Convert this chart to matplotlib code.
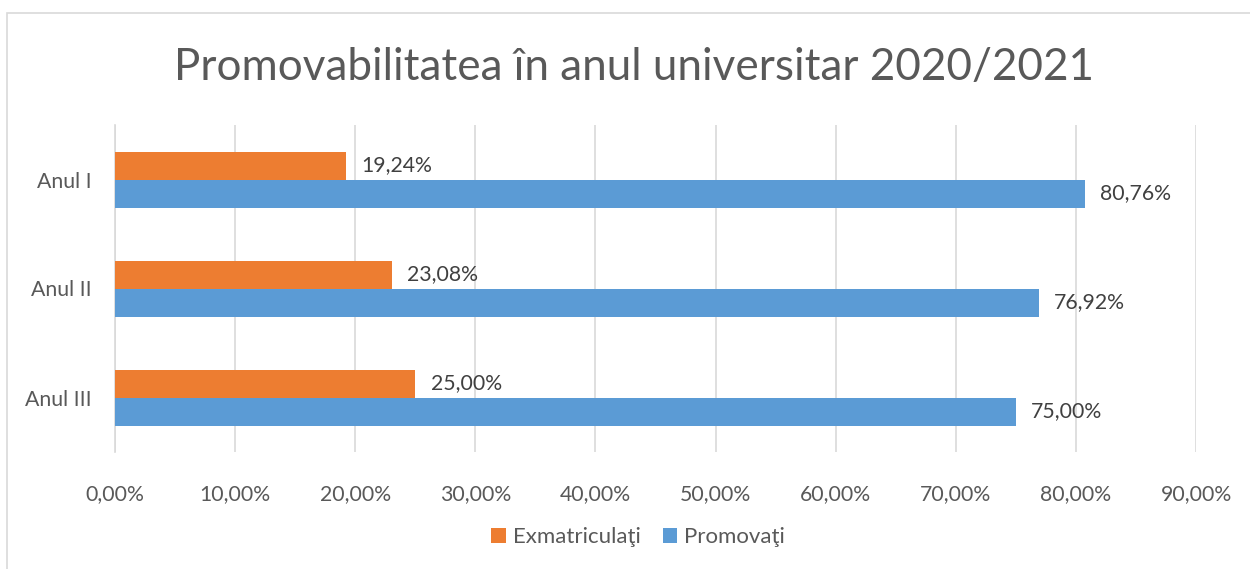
import matplotlib
matplotlib.use("Agg")
import matplotlib.pyplot as plt
from matplotlib.patches import Rectangle
import numpy as np

plt.rcParams['font.family'] = ['Lato', 'DejaVu Sans']

# data
categories = ['Anul I', 'Anul II', 'Anul III']
exmatriculati = [19.24, 23.08, 25.00]
promovati = [80.76, 76.92, 75.00]
series_names = ['Exmatriculaţi', 'Promovaţi']
xticks = [0, 10, 20, 30, 40, 50, 60, 70, 80, 90]

orange = '#ED7D31'
blue = '#5B9BD5'

fig = plt.figure(figsize=(12.5, 5.69), dpi=100)
ax = fig.add_axes([115 / 1250, 117 / 569, 1081 / 1250, 327 / 569])

# chart frame like Excel
fig.patches.append(Rectangle((7 / 1250, -0.1), 1.2, (569 - 13) / 569 + 0.1,
                             transform=fig.transFigure, fill=False,
                             edgecolor='#d9d9d9', linewidth=1.2))

y = np.arange(len(categories))
h = 28 / 109
ax.barh(y - h / 2, exmatriculati, height=h, color=orange, label=series_names[0], zorder=3)
ax.barh(y + h / 2, promovati, height=h, color=blue, label=series_names[1], zorder=3)

## data labels
for yi, v in zip(y, exmatriculati):
    ax.annotate(f'{v:.2f}%'.replace('.', ','), (v, yi - h / 2), xytext=(11, 0),
                textcoords='offset points', va='center', ha='left',
                fontsize=15.3, color='#404040')
for yi, v in zip(y, promovati):
    ax.annotate(f'{v:.2f}%'.replace('.', ','), (v, yi + h / 2), xytext=(11, 0),
                textcoords='offset points', va='center', ha='left',
                fontsize=15.3, color='#404040')

ax.set_xlim(0, 90)
ax.set_ylim(2.5, -0.5)
ax.set_xticks(xticks)
ax.set_xticklabels([f'{t:.2f}%'.replace('.', ',') for t in xticks])
ax.set_yticks(y)
ax.set_yticklabels(categories)
ax.tick_params(axis='both', length=0, labelsize=15.3, labelcolor='#595959')
ax.tick_params(axis='x', pad=23)
ax.tick_params(axis='y', pad=17)

ax.grid(axis='x', color='#d9d9d9', linewidth=1.2, zorder=0)
for s in ['top', 'right', 'bottom']:
    ax.spines[s].set_visible(False)
ax.spines['left'].set_color('#d9d9d9')
ax.spines['left'].set_linewidth(1.2)

fig.text(634 / 1250, 1 - 68 / 569, 'Promovabilitatea în anul universitar 2020/2021',
         ha='center', va='center', fontsize=31.7, color='#595959')

ax.legend(loc='center', bbox_to_anchor=((638 - 115) / 1081, -(537 - 452) / 327), ncol=2,
          frameon=False, fontsize=16, handlelength=0.65, handleheight=0.65,
          handletextpad=0.3, columnspacing=1.0, labelcolor='#595959')

fig.savefig('out.png', dpi=100)
